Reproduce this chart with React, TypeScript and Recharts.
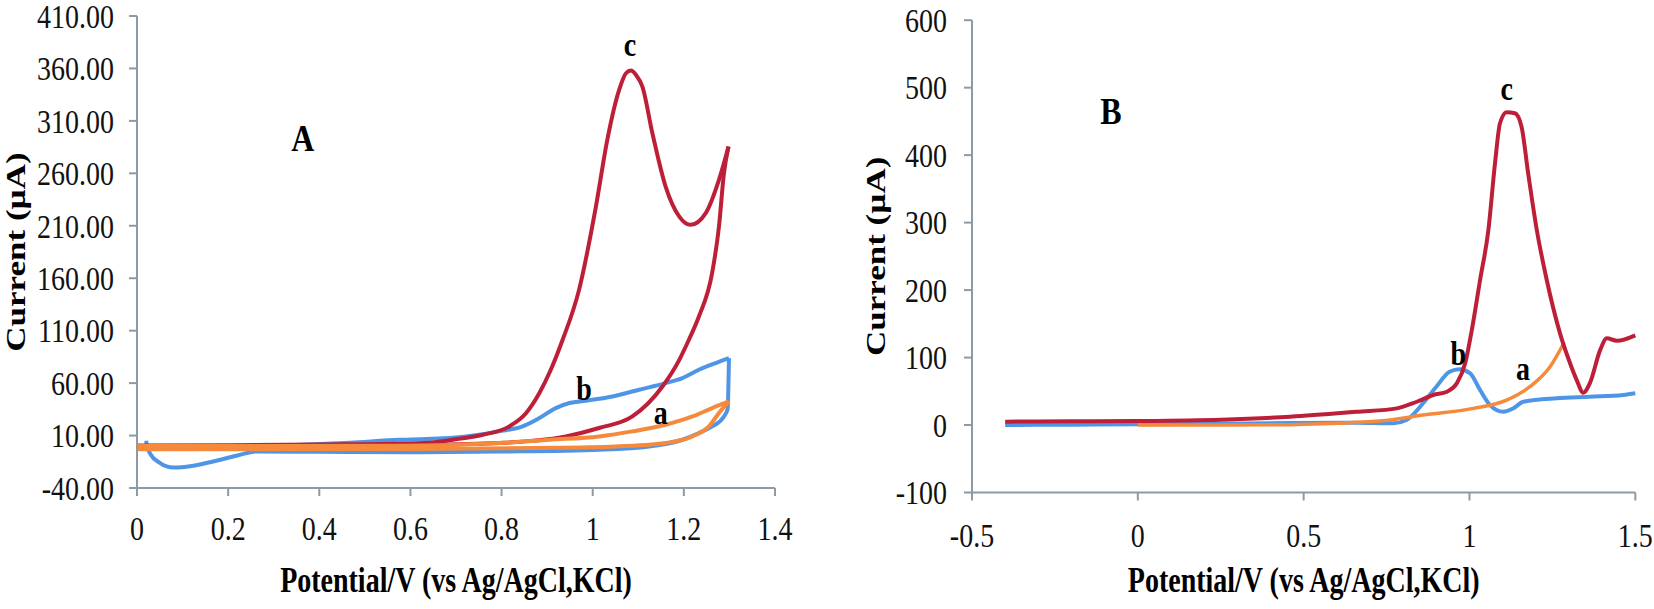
import { LineChart, Line, XAxis, YAxis, ReferenceDot } from "recharts";

const SERIF = '"Liberation Serif", "Times New Roman", serif';
const AXIS_COLOR = "#8b9ba6";
const RED = "#be1f38";
const BLUE = "#4f95e6";
const ORANGE = "#f68a3c";

// panel A: cyclic voltammograms (potential V, current µA), each loop split into its two branches
const potentialTicksA = [0, 0.2, 0.4, 0.6, 0.8, 1, 1.2, 1.4];
const currentTicksA = [-40, 10, 60, 110, 160, 210, 260, 310, 360, 410];

const cvA_aLower: [number, number][] = [
    [0, -3], [0.3, -3], [0.576, -2.9], [0.868, -1.9], [1.051, -0.4], [1.16, 2.9], [1.219, 9.2],
    [1.255, 18.7], [1.277, 31.5], [1.299, 42.5],
];
const cvA_aUpper: [number, number][] = [
    [0, 0], [0.3, 0], [0.576, 0.3], [0.795, 2.9], [0.905, 6], [1.014, 9.2], [1.087, 14],
    [1.16, 20.3], [1.219, 28.2], [1.262, 36.2], [1.299, 42.5],
];

const cvA_bLower: [number, number][] = [
    [0.02, 5], [0.022, 0], [0.03, -8], [0.05, -16], [0.08, -20.5], [0.12, -19], [0.167, -14.7],
    [0.22, -9], [0.262, -5.1], [0.4, -5.5], [0.6, -6], [0.8, -5.3], [1.014, -3.5], [1.124, -0.4],
    [1.197, 6], [1.233, 12.4], [1.262, 18.7], [1.288, 28.2], [1.296, 35], [1.299, 83.8],
];
const cvA_bUpper: [number, number][] = [
    [0.02, 0], [0.05, -1], [0.2, -1], [0.35, 1], [0.467, 3.2], [0.576, 6], [0.635, 6.7],
    [0.722, 9.2], [0.795, 14], [0.846, 18.7], [0.883, 26.7], [0.919, 36.2], [0.949, 41],
    [0.985, 43.2], [1.043, 47.3], [1.102, 53.7], [1.16, 60], [1.197, 64.8], [1.233, 72.7],
    [1.27, 79.1], [1.299, 83.8],
];

const cvA_cForward: [number, number][] = [
    [0, 0.5], [0.2, 0.8], [0.4, 1.5], [0.6, 2.5], [0.65, 3.5], [0.693, 6], [0.759, 10.8],
    [0.817, 18.7], [0.854, 31.5], [0.883, 50.5], [0.908, 72.7], [0.934, 101.3], [0.97, 148.9],
    [1.007, 228.3], [1.032, 291.9], [1.058, 339.5], [1.073, 355.4], [1.084, 358], [1.095, 353.8],
    [1.109, 342.6], [1.131, 298.2], [1.16, 247.4], [1.19, 218.8], [1.215, 210.9], [1.248, 222],
    [1.277, 253.7], [1.298, 285.5],
];
const cvA_cReverse: [number, number][] = [
    [0, 0], [0.3, 0], [0.6, 1], [0.795, 2.9], [0.941, 9.2], [1.014, 17.2], [1.087, 28.2],
    [1.153, 56.8], [1.19, 82.2], [1.211, 101.3], [1.233, 123.5], [1.262, 164.8], [1.277, 209.2],
    [1.288, 260.1], [1.298, 285.5],
];

// panel B: differential pulse voltammograms
const potentialTicksB = [-0.5, 0, 0.5, 1, 1.5];
const currentTicksB = [-100, 0, 100, 200, 300, 400, 500, 600];

const dpvB_a: [number, number][] = [
    [0, 0], [0.25, 0], [0.459, 0.5], [0.66, 4], [0.761, 7.4], [0.86, 14.8], [1.012, 24.7],
    [1.112, 37], [1.182, 56.8], [1.243, 86.4], [1.285, 122],
];

const dpvB_b: [number, number][] = [
    [-0.4, 0], [-0.2, 0.5], [0, 1], [0.25, 2], [0.459, 3], [0.66, 3.5], [0.77, 2.5], [0.81, 7.4],
    [0.86, 32.2], [0.9, 56.8], [0.94, 79], [0.97, 82.6], [1.002, 76.6], [1.032, 51.9], [1.062, 29.6],
    [1.102, 19.7], [1.132, 24.7], [1.162, 34.5], [1.263, 39.6], [1.363, 41.9], [1.464, 44.5], [1.5, 47],
];

const dpvB_c: [number, number][] = [
    [-0.4, 5], [-0.2, 5.5], [0, 6], [0.25, 8], [0.459, 12.3], [0.66, 19.7], [0.781, 24.7],
    [0.841, 34.5], [0.891, 44.5], [0.932, 49.4], [0.962, 61.8], [0.987, 91.4], [1.007, 140.8],
    [1.032, 214.9], [1.057, 289], [1.077, 387.9], [1.092, 447.2], [1.112, 463.5], [1.137, 462],
    [1.157, 442.1], [1.177, 373], [1.203, 289], [1.233, 214.9], [1.273, 135.9], [1.3, 96],
    [1.323, 67], [1.343, 48], [1.363, 62], [1.394, 111], [1.414, 128.5], [1.444, 125], [1.5, 133],
];

const toPoints = (pts: [number, number][]) => pts.map(([x, y]) => ({ x, y }));

// the source figure's lettering is taller than it is wide
const TICK_STRETCH = 1.18;
const TITLE_STRETCH = 1.25;

const StretchTick = (props: any) => {
    const { x, y, payload, anchor, dy, fmt } = props;
    return (
        <text
            transform={`translate(${x},${y}) scale(1,${TICK_STRETCH})`}
            textAnchor={anchor}
            dy={dy}
            fill="#111"
            fontSize={28}
            fontFamily={SERIF}
        >
            {fmt(payload.value)}
        </text>
    );
};

const xTick = (p: any) => <StretchTick {...p} anchor="middle" dy="0.71em" fmt={(v: number) => String(v)} />;
const yTickA = (p: any) => <StretchTick {...p} anchor="end" dy="0.355em" fmt={(v: number) => v.toFixed(2)} />;
const yTickB = (p: any) => <StretchTick {...p} anchor="end" dy="0.355em" fmt={(v: number) => String(v)} />;

// x axis title: baseline sits `lift` px above the bottom of the axis band
const xTitle = (lift: number) => (p: any) => {
    const vb = p.viewBox;
    return (
        <text
            transform={`translate(${vb.x + vb.width / 2},${vb.y + vb.height - lift}) scale(1,${TITLE_STRETCH})`}
            textAnchor="middle"
            fill="#000"
            fontSize={28}
            fontWeight="bold"
            fontFamily={SERIF}
        >
            Potential/V (vs Ag/AgCl,KCl)
        </text>
    );
};

// y axis title: rotated, centred `inset` px from the left edge of the axis band
const yTitle = (inset: number) => (p: any) => {
    const vb = p.viewBox;
    return (
        <text
            transform={`translate(${vb.x + inset},${vb.y + vb.height / 2}) rotate(-90) scale(${TITLE_STRETCH},1)`}
            textAnchor="middle"
            dy="0.355em"
            fill="#000"
            fontSize={28}
            fontWeight="bold"
            fontFamily={SERIF}
        >
            Current (µA)
        </text>
    );
};

const note = (value: string, size: number) => (p: any) => {
    const vb = p.viewBox;
    return (
        <text
            transform={`translate(${vb.x + vb.width / 2},${vb.y + vb.height / 2}) scale(1,1.2)`}
            textAnchor="middle"
            dy="0.355em"
            fill="#000"
            fontSize={size}
            fontWeight="bold"
            fontFamily={SERIF}
        >
            {value}
        </text>
    );
};

const axisLine = { stroke: AXIS_COLOR, strokeWidth: 2 };

const PanelA = () => (
    <LineChart width={800} height={609} margin={{ top: 16, right: 25, bottom: 11, left: 0 }}>
        <XAxis
            type="number"
            dataKey="x"
            domain={[0, 1.4]}
            ticks={potentialTicksA}
            interval={0}
            height={110}
            tickSize={8}
            tickMargin={21}
            tick={xTick}
            axisLine={axisLine}
            tickLine={axisLine}
            label={xTitle(6)}
        />
        <YAxis
            type="number"
            dataKey="y"
            domain={[-40, 410]}
            ticks={currentTicksA}
            interval={0}
            width={137}
            tickSize={8}
            tickMargin={15}
            tick={yTickA}
            axisLine={axisLine}
            tickLine={axisLine}
            label={yTitle(15)}
        />
        <Line data={toPoints(cvA_bLower)} dataKey="y" type="monotone" stroke={BLUE} strokeWidth={4} dot={false} isAnimationActive={false} />
        <Line data={toPoints(cvA_bUpper)} dataKey="y" type="monotone" stroke={BLUE} strokeWidth={4} dot={false} isAnimationActive={false} />
        <Line data={toPoints(cvA_cForward)} dataKey="y" type="monotone" stroke={RED} strokeWidth={4} dot={false} isAnimationActive={false} />
        <Line data={toPoints(cvA_cReverse)} dataKey="y" type="monotone" stroke={RED} strokeWidth={4} dot={false} isAnimationActive={false} />
        <Line data={toPoints(cvA_aLower)} dataKey="y" type="monotone" stroke={ORANGE} strokeWidth={4} dot={false} isAnimationActive={false} />
        <Line data={toPoints(cvA_aUpper)} dataKey="y" type="monotone" stroke={ORANGE} strokeWidth={4} dot={false} isAnimationActive={false} />
        <ReferenceDot x={0.364} y={294.7} r={0} fill="none" stroke="none" ifOverflow="visible" label={note("A", 32)} />
        <ReferenceDot x={1.082} y={383.7} r={0} fill="none" stroke="none" ifOverflow="visible" label={note("c", 28)} />
        <ReferenceDot x={0.981} y={55.6} r={0} fill="none" stroke="none" ifOverflow="visible" label={note("b", 28)} />
        <ReferenceDot x={1.149} y={32.1} r={0} fill="none" stroke="none" ifOverflow="visible" label={note("a", 28)} />
    </LineChart>
);

const PanelB = () => (
    <LineChart width={834} height={609} margin={{ top: 20.2, right: 18.7, bottom: 6.5, left: 0 }}>
        <XAxis
            type="number"
            dataKey="x"
            domain={[-0.5, 1.5]}
            ticks={potentialTicksB}
            interval={0}
            height={110}
            tickSize={8}
            tickMargin={23}
            tick={xTick}
            axisLine={axisLine}
            tickLine={axisLine}
            label={xTitle(10.5)}
        />
        <YAxis
            type="number"
            dataKey="y"
            domain={[-100, 600]}
            ticks={currentTicksB}
            interval={0}
            width={152}
            tickSize={8}
            tickMargin={17}
            tick={yTickB}
            axisLine={axisLine}
            tickLine={axisLine}
            label={yTitle(55)}
        />
        <Line data={toPoints(dpvB_b)} dataKey="y" type="monotone" stroke={BLUE} strokeWidth={4} dot={false} isAnimationActive={false} />
        <Line data={toPoints(dpvB_a)} dataKey="y" type="monotone" stroke={ORANGE} strokeWidth={3.5} dot={false} isAnimationActive={false} />
        <Line data={toPoints(dpvB_c)} dataKey="y" type="monotone" stroke={RED} strokeWidth={4} dot={false} isAnimationActive={false} />
        <ReferenceDot x={-0.081} y={465.8} r={0} fill="none" stroke="none" ifOverflow="visible" label={note("B", 32)} />
        <ReferenceDot x={1.1125} y={499} r={0} fill="none" stroke="none" ifOverflow="visible" label={note("c", 28)} />
        <ReferenceDot x={0.9665} y={106.1} r={0} fill="none" stroke="none" ifOverflow="visible" label={note("b", 28)} />
        <ReferenceDot x={1.1617} y={84.5} r={0} fill="none" stroke="none" ifOverflow="visible" label={note("a", 28)} />
    </LineChart>
);

export default function App() {
    return (
        <div
            style={{
                position: "absolute",
                left: 0,
                top: 0,
                width: 1654,
                height: 609,
                background: "#fff",
                fontFamily: SERIF,
            }}
        >
            <div style={{ position: "absolute", left: 0, top: 0 }}>
                <PanelA />
            </div>
            <div style={{ position: "absolute", left: 820, top: 0 }}>
                <PanelB />
            </div>
        </div>
    );
}
